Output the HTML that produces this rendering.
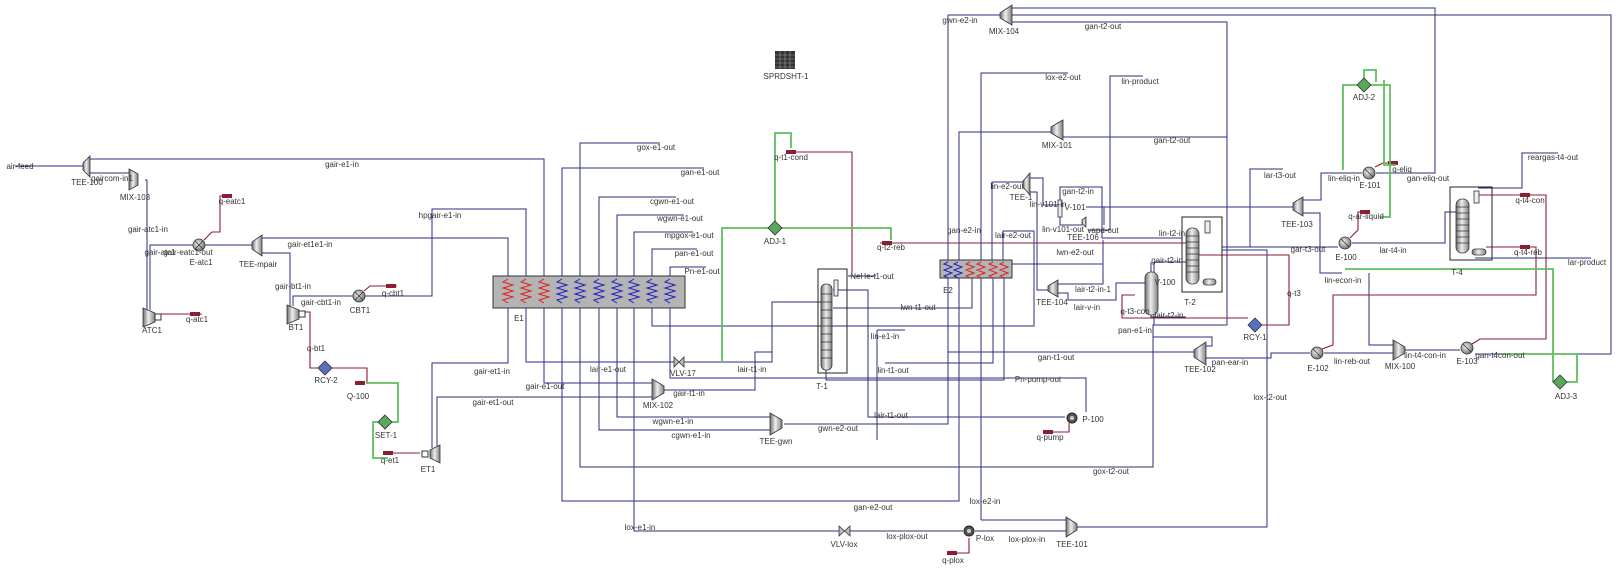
<!DOCTYPE html>
<html><head><meta charset="utf-8"><style>
html,body{margin:0;padding:0;background:#fff;}
svg{display:block;}
text{font-family:"Liberation Sans",sans-serif;font-size:8px;fill:#333;text-anchor:middle;}
.b{fill:none;stroke:#2b2f7f;stroke-width:1;}
.r{fill:none;stroke:#8b1d35;stroke-width:1.1;}
.gr{fill:none;stroke:#5fbf5f;stroke-width:1.8;}
.eq{fill:url(#g);stroke:#333;stroke-width:0.8;}
.zr{fill:none;stroke:#e02020;stroke-width:1;}
.zb{fill:none;stroke:#2020c0;stroke-width:1;}
</style></head><body>
<svg width="1616" height="568" viewBox="0 0 1616 568" xmlns="http://www.w3.org/2000/svg">
<defs>
<linearGradient id="g" x1="0" x2="1" y1="0" y2="0"><stop offset="0" stop-color="#707070"/><stop offset="0.45" stop-color="#eeeeee"/><stop offset="1" stop-color="#808080"/></linearGradient>
<radialGradient id="c" cx="0.4" cy="0.4" r="0.7"><stop offset="0" stop-color="#f0f0f0"/><stop offset="1" stop-color="#666"/></radialGradient>
</defs>
<rect width="1616" height="568" fill="#fff"/>

<path class="b" d="M15,166 H83"/>
<path class="b" d="M90,159 H544 V276"/>
<path class="b" d="M90,173 H129"/>
<path class="b" d="M145,180 H147 V310"/>
<path class="b" d="M150,310 V245 H193"/>
<path class="b" d="M205,245 H252"/>
<path class="b" d="M262,238 H508 V276"/>
<path class="b" d="M262,253 H290 V306"/>
<path class="b" d="M293,306 V296 H353"/>
<path class="b" d="M365,296 H432 V209 H526 V276"/>
<path class="b" d="M508,308 V363 H432 V448"/>
<path class="b" d="M437,448 V397 H652"/>
<path class="b" d="M526,308 V362 H674 M684,362 H772 V302 H821"/>
<path class="b" d="M544,308 V383 H652"/>
<path class="b" d="M664,390 H755 V352 H772"/>
<path class="b" d="M562,308 V501 H959 V278"/>
<path class="b" d="M580,308 V467 H1153 V325 H1227"/>
<path class="b" d="M562,276 V168 H704 M580,276 V143 H660 M599,276 V197 H676 M617,276 V215 H684 M634,276 V232 H693 M652,276 V249 H697 M670,276 V267 H706"/>
<path class="b" d="M599,308 V430 H772 M617,308 V417 H772"/>
<path class="b" d="M634,308 V531 H839 M850,531 H963 M975,531 H1066"/>
<path class="b" d="M652,308 V326 H1034 V231 H1003 V260"/>
<path class="b" d="M670,308 V378 H1086 V412"/>
<path class="b" d="M948,15 H1000 M948,15 V260 M948,278 V424 H784"/>
<path class="b" d="M1051,132 H959 V260"/>
<path class="b" d="M981,520 V278 M981,260 V73 H1068"/>
<path class="b" d="M1066,520 H981"/>
<path class="b" d="M1077,527 H1267 V250 H1222"/>
<path class="b" d="M833,290 H868 V417 H1065"/>
<path class="b" d="M885,363 H993 V278"/>
<path class="b" d="M877,330 V440 M877,330 H905"/>
<path class="b" d="M833,308 H972 V278"/>
<path class="b" d="M826,370 V380 H1004 V278"/>
<path class="b" d="M848,276 H876"/>
<path class="b" d="M948,352 H1194"/>
<path class="b" d="M1206,346 H1212 V337 H1153"/>
<path class="b" d="M1206,358 H1271 V353 H1310"/>
<path class="b" d="M1324,353 H1393"/>
<path class="b" d="M1303,213 H1320 V273 H1342 M1369,273 V345 H1393"/>
<path class="b" d="M1405,350 H1460"/>
<path class="b" d="M1475,354 H1611 V15 H1012"/>
<path class="b" d="M1012,8 H1435 V173 H1376"/>
<path class="b" d="M1012,22 H1227 V325"/>
<path class="b" d="M1303,200 H1321 V173 H1362"/>
<path class="b" d="M1250,247 V169 H1283"/>
<path class="b" d="M1222,247 H1338 M1352,243 H1445 V212 H1456"/>
<path class="b" d="M1104,225 V207 H1293"/>
<path class="b" d="M1478,188 H1522 V153 H1558"/>
<path class="b" d="M1475,258 H1591"/>
<path class="b" d="M1063,137 H1227"/>
<path class="b" d="M1110,230 V76 H1143 M1110,230 H1088"/>
<path class="b" d="M1030,178 H1043 V205 H1058 M1060,217 V225 H1082"/>
<path class="b" d="M1023,182 H992 V260"/>
<path class="b" d="M1060,200 V187 H1102 V238 H1182"/>
<path class="b" d="M1030,192 H1037 V290 H1048"/>
<path class="b" d="M1058,284 H1103 V240 M1012,264 H1103"/>
<path class="b" d="M1058,293 H1068 V300 H1116 V283 H1145"/>
<path class="b" d="M1154,325 V262 H1186 M1151,272 V262"/>
<path class="b" d="M1151,315 V317 H1186"/>
<path class="b" d="M1086,207 H1104"/>

<path class="r" d="M160,314 H202"/><rect x="190" y="312" width="10" height="4" fill="#8b1d35"/>
<path class="r" d="M204,240 L212,232 H220 V196 H232"/><rect x="222" y="194" width="10" height="4" fill="#8b1d35"/>
<path class="r" d="M364,291 L370,286 H397"/><rect x="386" y="284" width="10" height="4" fill="#8b1d35"/>
<path class="r" d="M303,312 H310 V368 H318 M332,368 H367 V383"/>
<path class="r" d="M420,453 H385"/><rect x="383" y="451" width="10" height="4" fill="#8b1d35"/>
<path class="r" d="M790,152 H852 V273"/><rect x="786" y="150" width="10" height="4" fill="#8b1d35"/>
<path class="r" d="M880,243 H1186"/><rect x="882" y="241" width="10" height="4" fill="#8b1d35"/>
<path class="r" d="M1198,255 H1289 V325 H1262 M1248,318 H1122 V295 H1135"/>
<path class="r" d="M1350,238 L1358,230 V212 H1370"/><rect x="1360" y="210" width="10" height="4" fill="#8b1d35"/>
<path class="r" d="M1375,167 L1383,163 H1398"/><rect x="1388" y="161" width="10" height="4" fill="#8b1d35"/>
<path class="r" d="M1478,195 H1546 V339 H1480 L1472,344"/><rect x="1520" y="193" width="10" height="4" fill="#8b1d35"/>
<path class="r" d="M1486,247 H1536 V295 H1333 V345 L1322,349"/><rect x="1520" y="245" width="10" height="4" fill="#8b1d35"/>
<path class="r" d="M1069,423 V432 H1043"/><rect x="1043" y="430" width="10" height="4" fill="#8b1d35"/>
<path class="r" d="M969,538 V553 H947"/><rect x="947" y="551" width="10" height="4" fill="#8b1d35"/>
<rect x="355" y="381" width="10" height="4" fill="#8b1d35"/>

<path class="gr" d="M366,383 H398 V422 H392 M378,422 H373 V458 H388"/>
<path class="gr" d="M775,222 V133 H791 V148 M769,228 H722 V362 M781,228 H891 V240"/>
<path class="gr" d="M1358,85 H1343 V170 M1364,79 V70 H1376 V82 M1370,85 H1390 V217 H1380 M1384,80 V165 H1396"/>
<path class="gr" d="M1345,269 H1553 V382 M1566,382 H1577 V354 H1501"/>

<rect x="493" y="276" width="192" height="32" fill="#b4b4b4" stroke="#333" stroke-width="1"/>
<g>
<path class="zr" d="M508,279 l-5,3 l10,3 l-10,3 l10,3 l-10,3 l10,3 l-10,3 l5,3"/>
<path class="zr" d="M526,279 l-5,3 l10,3 l-10,3 l10,3 l-10,3 l10,3 l-10,3 l5,3"/>
<path class="zr" d="M544,279 l-5,3 l10,3 l-10,3 l10,3 l-10,3 l10,3 l-10,3 l5,3"/>
<path class="zb" d="M562,279 l-5,3 l10,3 l-10,3 l10,3 l-10,3 l10,3 l-10,3 l5,3"/>
<path class="zb" d="M580,279 l-5,3 l10,3 l-10,3 l10,3 l-10,3 l10,3 l-10,3 l5,3"/>
<path class="zb" d="M599,279 l-5,3 l10,3 l-10,3 l10,3 l-10,3 l10,3 l-10,3 l5,3"/>
<path class="zb" d="M617,279 l-5,3 l10,3 l-10,3 l10,3 l-10,3 l10,3 l-10,3 l5,3"/>
<path class="zb" d="M634,279 l-5,3 l10,3 l-10,3 l10,3 l-10,3 l10,3 l-10,3 l5,3"/>
<path class="zb" d="M652,279 l-5,3 l10,3 l-10,3 l10,3 l-10,3 l10,3 l-10,3 l5,3"/>
<path class="zb" d="M670,279 l-5,3 l10,3 l-10,3 l10,3 l-10,3 l10,3 l-10,3 l5,3"/>
</g>
<rect x="940" y="260" width="72" height="18" fill="#b4b4b4" stroke="#333" stroke-width="1"/>
<path class="zb" d="M948,262 l-4,2 l8,3 l-8,3 l8,3 l-8,3 l4,2 M958,262 l-4,2 l8,3 l-8,3 l8,3 l-8,3 l4,2"/>
<path class="zr" d="M970,262 l-4,2 l8,3 l-8,3 l8,3 l-8,3 l4,2 M981,262 l-4,2 l8,3 l-8,3 l8,3 l-8,3 l4,2 M993,262 l-4,2 l8,3 l-8,3 l8,3 l-8,3 l4,2 M1004,262 l-4,2 l8,3 l-8,3 l8,3 l-8,3 l4,2"/>

<rect x="818" y="269" width="29" height="104" fill="none" stroke="#222" stroke-width="1"/>
<rect x="821" y="284" width="11" height="86" rx="5" class="eq"/>
<path d="M821,294 h11 M821,302 h11 M821,310 h11 M821,318 h11 M821,326 h11 M821,334 h11 M821,342 h11 M821,350 h11 M821,358 h11" stroke="#333" stroke-width="0.7"/>
<rect x="834" y="280" width="4" height="16" fill="#eee" stroke="#333" stroke-width="0.8"/>

<rect x="1182" y="217" width="40" height="75" fill="none" stroke="#222" stroke-width="1"/>
<rect x="1186" y="228" width="13" height="56" rx="6" class="eq"/>
<path d="M1186,236 h13 M1186,242 h13 M1186,248 h13 M1186,254 h13 M1186,260 h13 M1186,266 h13 M1186,272 h13" stroke="#333" stroke-width="0.7"/>
<rect x="1205" y="221" width="5" height="12" fill="#eee" stroke="#333" stroke-width="0.8"/>
<rect x="1203" y="279" width="13" height="6" rx="3" class="eq"/>

<rect x="1450" y="187" width="42" height="73" fill="none" stroke="#222" stroke-width="1"/>
<rect x="1456" y="199" width="13" height="54" rx="6" class="eq"/>
<path d="M1456,207 h13 M1456,213 h13 M1456,219 h13 M1456,225 h13 M1456,231 h13 M1456,237 h13 M1456,243 h13" stroke="#333" stroke-width="0.7"/>
<rect x="1474" y="191" width="5" height="12" fill="#eee" stroke="#333" stroke-width="0.8"/>
<rect x="1472" y="249" width="14" height="6" rx="3" class="eq"/>

<rect x="1145" y="272" width="13" height="43" rx="6" class="eq"/>
<rect x="1058" y="200" width="4" height="17" fill="#eee" stroke="#333" stroke-width="0.8"/>

<polygon class="eq" points="83,163 90,156 90,177 83,170"/>
<polygon class="eq" points="129,169 138,174 138,185 129,190"/>
<polygon class="eq" points="252,242 262,235 262,256 252,249"/>
<polygon class="eq" points="652,379 664,386 664,393 652,400"/>
<polygon class="eq" points="770,413 782,420 782,428 770,435"/>
<polygon class="eq" points="1000,13 1012,5 1012,25 1000,18"/>
<polygon class="eq" points="1051,127 1063,120 1063,140 1051,133"/>
<polygon class="eq" points="1023,181 1030,173 1030,195 1023,187"/>
<polygon class="eq" points="1082,220 1086,217 1086,227 1082,224"/>
<polygon class="eq" points="1048,286 1058,280 1058,297 1048,291"/>
<polygon class="eq" points="1293,203 1303,197 1303,216 1293,210"/>
<polygon class="eq" points="1194,350 1206,342 1206,365 1194,357"/>
<polygon class="eq" points="1066,517 1077,524 1077,530 1066,537"/>
<polygon class="eq" points="1393,340 1405,347 1405,353 1393,360"/>
<polygon class="eq" points="143,308 155,313 155,322 143,327"/><rect x="155" y="314" width="6" height="6" fill="#fff" stroke="#333"/>
<polygon class="eq" points="287,305 299,310 299,319 287,324"/><rect x="299" y="311" width="6" height="6" fill="#fff" stroke="#333"/>
<polygon class="eq" points="440,445 430,450 430,458 440,463"/><rect x="422" y="451" width="6" height="6" fill="#fff" stroke="#333"/>
<g fill="url(#c)" stroke="#333" stroke-width="0.8">
<circle cx="199" cy="245" r="6"/><circle cx="359" cy="296" r="6"/><circle cx="1369" cy="173" r="6"/><circle cx="1345" cy="243" r="6"/><circle cx="1317" cy="353" r="6"/><circle cx="1467" cy="348" r="6"/>
</g>
<path d="M195,241 l8,8 M195,249 l8,-8 M355,292 l8,8 M355,300 l8,-8 M1365,169 l8,8 M1341,239 l8,8 M1313,349 l8,8 M1463,344 l8,8" stroke="#333" stroke-width="0.8"/>
<circle cx="1072" cy="418" r="5" fill="#555" stroke="#222"/><circle cx="1072" cy="418" r="2" fill="#ccc"/>
<circle cx="969" cy="531" r="5" fill="#555" stroke="#222"/><circle cx="969" cy="531" r="2" fill="#ccc"/>
<polygon points="674,357 684,367 684,357 674,367" fill="#bbb" stroke="#333" stroke-width="0.8"/>
<polygon points="839,526 850,536 850,526 839,536" fill="#bbb" stroke="#333" stroke-width="0.8"/>
<polygon points="325,361 332,368 325,375 318,368" fill="#5a6fc0" stroke="#333" stroke-width="0.8"/>
<polygon points="1255,318 1262,325 1255,332 1248,325" fill="#5a6fc0" stroke="#333" stroke-width="0.8"/>
<polygon points="775,221 782,228 775,235 768,228" fill="#5aa85a" stroke="#333" stroke-width="0.8"/>
<polygon points="1364,78 1371,85 1364,92 1357,85" fill="#5aa85a" stroke="#333" stroke-width="0.8"/>
<polygon points="1560,375 1567,382 1560,389 1553,382" fill="#5aa85a" stroke="#333" stroke-width="0.8"/>
<polygon points="385,415 392,422 385,429 378,422" fill="#5aa85a" stroke="#333" stroke-width="0.8"/>
<rect x="775" y="51" width="20" height="18" fill="#333"/>
<path d="M775,55 h20 M775,59 h20 M775,63 h20 M775,67 h20 M780,51 v18 M785,51 v18 M790,51 v18" stroke="#999" stroke-width="0.6"/>

<text x="20" y="169">air-feed</text><text x="87" y="185">TEE-100</text><text x="112" y="181">gaircom-in1</text>
<text x="135" y="200">MIX-103</text><text x="342" y="167">gair-e1-in</text><text x="232" y="204">q-eatc1</text>
<text x="148" y="232">gair-atc1-in</text><text x="160" y="255">gair-atc1</text><text x="188" y="255">gair-eatc1-out</text>
<text x="201" y="265">E-atc1</text><text x="258" y="267">TEE-mpair</text><text x="310" y="247">gair-et1e1-in</text>
<text x="440" y="218">hpgair-e1-in</text><text x="293" y="289">gair-bt1-in</text><text x="321" y="305">gair-cbt1-in</text>
<text x="393" y="296">q-cbt1</text><text x="360" y="313">CBT1</text><text x="152" y="333">ATC1</text><text x="197" y="322">q-atc1</text>
<text x="296" y="330">BT1</text><text x="519" y="321">E1</text><text x="316" y="351">q-bt1</text><text x="326" y="383">RCY-2</text>
<text x="358" y="399">Q-100</text><text x="386" y="438">SET-1</text><text x="390" y="463">q-et1</text><text x="428" y="472">ET1</text>
<text x="492" y="374">gair-et1-in</text><text x="493" y="405">gair-et1-out</text>
<text x="656" y="150">gox-e1-out</text><text x="700" y="175">gan-e1-out</text><text x="672" y="204">cgwn-e1-out</text>
<text x="680" y="221">wgwn-e1-out</text><text x="689" y="238">mpgox-e1-out</text><text x="694" y="256">pan-e1-out</text><text x="702" y="274">Pn-e1-out</text>
<text x="608" y="372">lair-e1-out</text><text x="545" y="389">gair-e1-out</text><text x="683" y="376">VLV-17</text>
<text x="752" y="372">lair-t1-in</text><text x="658" y="408">MIX-102</text><text x="689" y="396">gair-t1-in</text>
<text x="673" y="424">wgwn-e1-in</text><text x="691" y="438">cgwn-e1-in</text><text x="776" y="444">TEE-gwn</text><text x="838" y="431">gwn-e2-out</text>
<text x="791" y="160">q-t1-cond</text><text x="775" y="244">ADJ-1</text><text x="891" y="250">q-t2-reb</text>
<text x="872" y="279">NeHe-t1-out</text><text x="918" y="310">lwn-t1-out</text><text x="885" y="339">lin-e1-in</text>
<text x="893" y="373">lin-t1-out</text><text x="891" y="418">lair-t1-out</text><text x="822" y="389">T-1</text>
<text x="786" y="79">SPRDSHT-1</text>
<text x="1038" y="382">Pn-pump-out</text><text x="1093" y="422">P-100</text><text x="1050" y="440">q-pump</text>
<text x="1111" y="474">gox-t2-out</text><text x="873" y="510">gan-e2-out</text><text x="985" y="504">lox-e2-in</text>
<text x="640" y="530">lox-e1-in</text><text x="844" y="547">VLV-lox</text><text x="907" y="539">lox-plox-out</text>
<text x="985" y="541">P-lox</text><text x="1027" y="542">lox-plox-in</text><text x="1072" y="547">TEE-101</text><text x="953" y="563">q-plox</text>
<text x="960" y="23">gwn-e2-in</text><text x="1004" y="34">MIX-104</text><text x="1103" y="29">gan-t2-out</text>
<text x="1063" y="80">lox-e2-out</text><text x="1140" y="84">lin-product</text>
<text x="1057" y="148">MIX-101</text><text x="1172" y="143">gan-t2-out</text>
<text x="948" y="293">E2</text><text x="964" y="233">gan-e2-in</text><text x="1013" y="238">lair-e2-out</text>
<text x="1007" y="189">lin-e2-out</text><text x="1021" y="200">TEE-1</text><text x="1078" y="194">gan-t2-in</text>
<text x="1048" y="207">lin-v101-in</text><text x="1075" y="210">V-101</text><text x="1063" y="232">lin-v101-out</text>
<text x="1083" y="240">TEE-106</text><text x="1103" y="233">vapd-out</text><text x="1075" y="255">lwn-e2-out</text>
<text x="1172" y="236">lin-t2-in</text><text x="1167" y="263">gair-t2-in</text><text x="1165" y="285">V-100</text>
<text x="1052" y="305">TEE-104</text><text x="1093" y="292">lair-t2-in-1</text><text x="1087" y="310">lair-v-in</text>
<text x="1135" y="314">q-t3-con</text><text x="1169" y="318">lair-t2-in</text><text x="1190" y="305">T-2</text>
<text x="1135" y="333">pan-e1-in</text><text x="1056" y="360">gan-t1-out</text>
<text x="1280" y="178">lar-t3-out</text><text x="1297" y="227">TEE-103</text><text x="1344" y="181">lin-eliq-in</text>
<text x="1370" y="188">E-101</text><text x="1402" y="172">q-eliq</text><text x="1428" y="181">gan-eliq-out</text>
<text x="1364" y="100">ADJ-2</text><text x="1366" y="219">q-ar-liquid</text><text x="1346" y="260">E-100</text>
<text x="1308" y="252">gar-t3-out</text><text x="1393" y="253">lar-t4-in</text><text x="1553" y="160">reargas-t4-out</text>
<text x="1530" y="203">q-t4-con</text><text x="1528" y="255">q-t4-reb</text><text x="1587" y="265">lar-product</text>
<text x="1457" y="275">T-4</text><text x="1343" y="283">lin-econ-in</text><text x="1294" y="296">q-t3</text>
<text x="1255" y="340">RCY-1</text><text x="1200" y="372">TEE-102</text><text x="1230" y="365">pan-ear-in</text>
<text x="1318" y="371">E-102</text><text x="1352" y="364">lin-reb-out</text><text x="1400" y="369">MIX-100</text>
<text x="1425" y="358">lin-t4-con-in</text><text x="1467" y="364">E-103</text><text x="1500" y="358">gan-t4con-out</text>
<text x="1566" y="399">ADJ-3</text><text x="1270" y="400">lox-t2-out</text>
</svg>
</body></html>
